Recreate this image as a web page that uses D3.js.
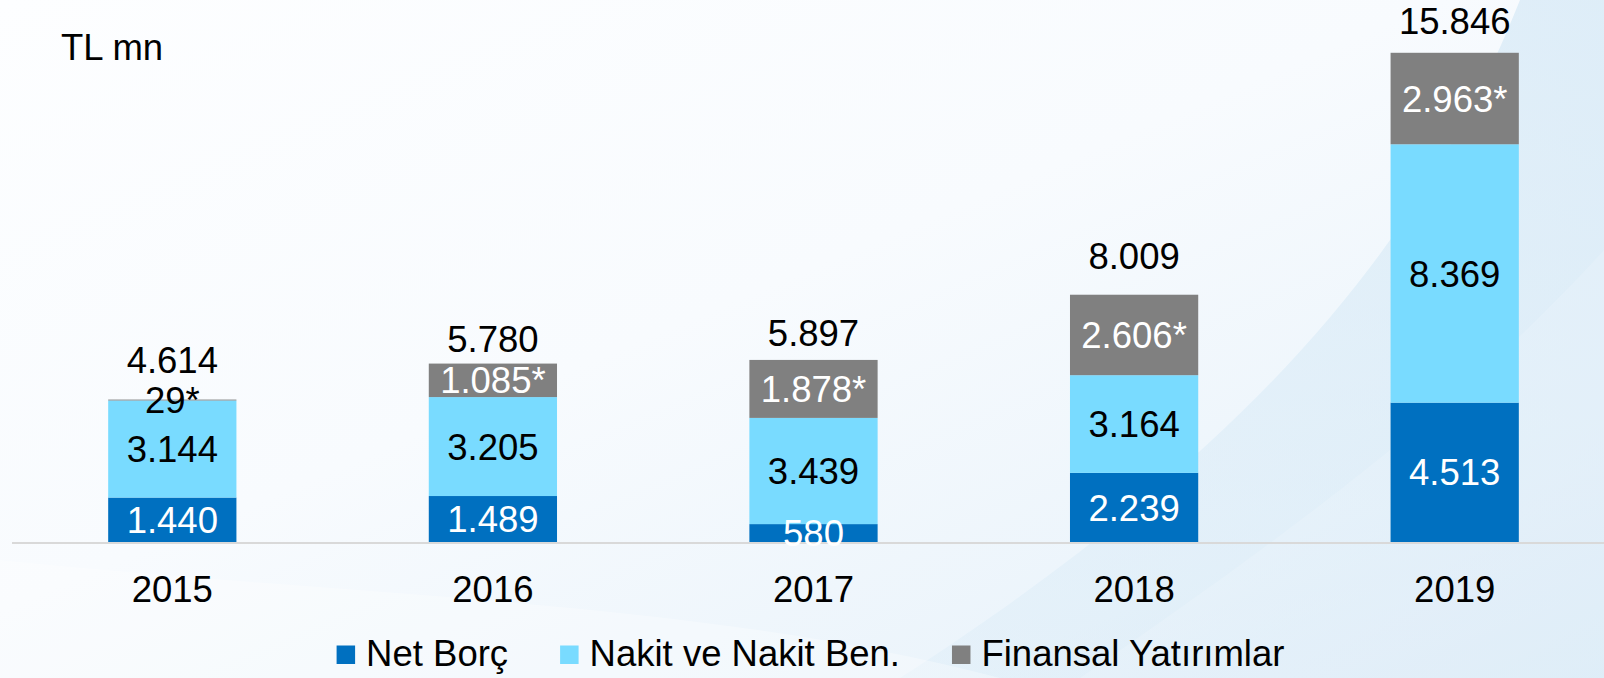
<!DOCTYPE html>
<html lang="tr">
<head>
<meta charset="utf-8">
<script src="https://cdn.jsdelivr.net/npm/d3@7"></script>
<style>
  html, body { margin: 0; padding: 0; background: #ffffff; }
  svg { display: block; }
  text { font-family: "Liberation Sans", Arial, sans-serif; }
</style>
</head>
<body>
<svg id="chart" width="1604" height="678"></svg>
<script>
// ---- data (TL mn) ----
const years = ["2015", "2016", "2017", "2018", "2019"];
const netBorc = [1440, 1489, 580, 2239, 4513];
const nakit = [3144, 3205, 3439, 3164, 8369];
const finansal = [29, 1085, 1878, 2606, 2963];
const totals = [4614, 5780, 5897, 8009, 15846];
const seriesNames = ["Net Borç", "Nakit ve Nakit Ben.", "Finansal Yatırımlar"];
const unitLabel = "TL mn";

// ---- layout ----
const W = 1604, H = 678;
const baseY = 542, topY = 48;
const fontSize = 36.5;
const capH = fontSize * 0.716;
const totalGap = [27, 12, 14, 26, 19];   // space between bar top and its total label
const colors = ["#0070c0", "#79dbff", "#808080"];
const labelColors = ["#ffffff", "#000000", "#ffffff"];
const suffix = ["", "", "*"];

const svg = d3.select("#chart");

// ---- background ----
const defs = svg.append("defs");
const bg = defs.append("linearGradient").attr("id", "bg")
  .attr("x1", "0").attr("y1", "0").attr("x2", "1").attr("y2", "1");
bg.append("stop").attr("offset", "0").attr("stop-color", "#fdfeff");
bg.append("stop").attr("offset", "0.45").attr("stop-color", "#f8fbfe");
bg.append("stop").attr("offset", "0.8").attr("stop-color", "#ebf4fb");
bg.append("stop").attr("offset", "1").attr("stop-color", "#dcebf7");
svg.append("rect").attr("width", W).attr("height", H).attr("fill", "url(#bg)");

const sweep = defs.append("linearGradient").attr("id", "sweep")
  .attr("x1", "0").attr("y1", "1").attr("x2", "1").attr("y2", "0");
sweep.append("stop").attr("offset", "0").attr("stop-color", "#d9ebf7").attr("stop-opacity", 0.35);
sweep.append("stop").attr("offset", "1").attr("stop-color", "#d6e9f6").attr("stop-opacity", 0.75);
svg.append("path")
  .attr("d", "M1520,0 C1440,200 1300,420 900,678 L1604,678 L1604,0 Z")
  .attr("fill", "url(#sweep)");
svg.append("path")
  .attr("d", "M1604,250 C1450,420 1250,560 1080,678 L1604,678 Z")
  .attr("fill", "#ffffff").attr("opacity", 0.15);
svg.append("path")
  .attr("d", "M0,560 C400,600 700,600 1000,678 L0,678 Z")
  .attr("fill", "#ffffff").attr("opacity", 0.3);

// ---- scales ----
const x = d3.scaleBand().domain(years).range([12, 1615])
  .paddingInner(0.6).paddingOuter(0.3);
const y = d3.scaleLinear().domain([0, 16000]).range([baseY, topY]);

const rows = years.map((yr, i) => ({ year: yr, a: netBorc[i], b: nakit[i], c: finansal[i] }));
const stack = d3.stack().keys(["a", "b", "c"])(rows);

const fmt = d3.formatLocale({ decimal: ",", thousands: ".", grouping: [3], currency: ["", ""] }).format(",d");

// ---- bars ----
const layers = svg.append("g").selectAll("g").data(stack).join("g")
  .attr("fill", (d, i) => colors[i]);
layers.selectAll("rect").data(d => d).join("rect")
  .attr("x", d => x(d.data.year))
  .attr("width", x.bandwidth())
  .attr("y", d => y(d[1]))
  .attr("height", d => y(d[0]) - y(d[1]));

// ---- x axis ----
const axis = svg.append("g").attr("transform", `translate(0,${baseY + 1})`)
  .call(d3.axisBottom(x).tickSize(0).tickSizeOuter(0).tickPadding(0));
axis.select(".domain").attr("stroke", "#d9d9d9").attr("stroke-width", 2)
  .attr("d", `M12,0H${W}`);
axis.selectAll(".tick text")
  .attr("font-size", fontSize).attr("fill", "#000")
  .attr("font-family", "Liberation Sans, Arial, sans-serif")
  .attr("dy", null).attr("y", 602 - baseY - 1);

// ---- segment labels ----
const labels = svg.append("g").attr("text-anchor", "middle").attr("font-size", fontSize);
stack.forEach((layer, si) => {
  labels.append("g").selectAll("text").data(layer).join("text")
    .attr("x", d => x(d.data.year) + x.bandwidth() / 2)
    .attr("y", d => (y(d[0]) + y(d[1])) / 2 + capH / 2)
    .attr("fill", d => (y(d[0]) - y(d[1]) < 12 ? "#000000" : labelColors[si]))
    .text((d, i) => fmt(d.data[layer.key]) + suffix[si]);
});

// ---- totals ----
labels.append("g").selectAll("text").data(years).join("text")
  .attr("x", d => x(d) + x.bandwidth() / 2)
  .attr("y", (d, i) => y(totals[i]) - totalGap[i])
  .attr("fill", "#000")
  .text((d, i) => fmt(totals[i]));

// ---- unit ----
svg.append("text").attr("x", 61).attr("y", 59.5)
  .attr("font-size", fontSize).attr("fill", "#000").text(unitLabel);

// ---- legend ----
const legend = svg.append("g").attr("font-size", fontSize);
const sq = 18.5, sqGap = 11, itemGap = 52, legendBase = 666;
const items = legend.selectAll("g").data(seriesNames).join("g");
items.append("rect").attr("width", sq).attr("height", sq)
  .attr("y", legendBase - 20.5).attr("fill", (d, i) => colors[i]);
items.append("text").attr("x", sq + sqGap).attr("y", legendBase)
  .attr("fill", "#000").text(d => d);
let widths = [];
items.each(function () { widths.push(this.getBBox().width); });
const totalW = d3.sum(widths) + itemGap * (widths.length - 1);
let cx = 810.5 - totalW / 2;
items.attr("transform", (d, i) => {
  const t = `translate(${cx},0)`;
  cx += widths[i] + itemGap;
  return t;
});
</script>
</body>
</html>
